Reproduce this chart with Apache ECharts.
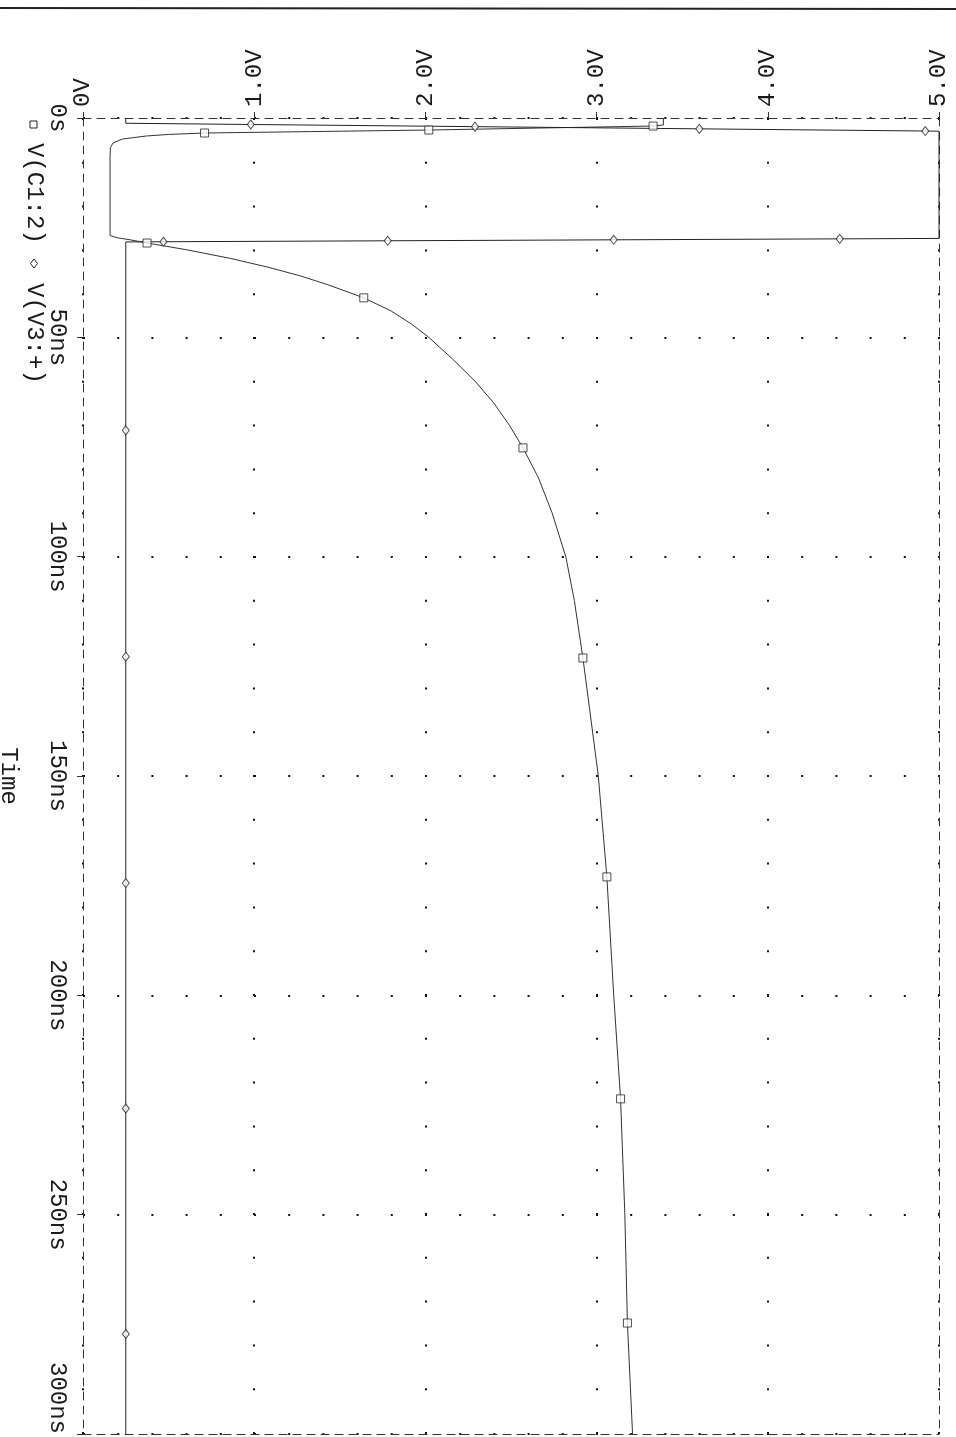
<!DOCTYPE html>
<html><head><meta charset="utf-8">
<script src="https://cdn.jsdelivr.net/npm/echarts@6/dist/echarts.min.js"></script>
<style>html,body{margin:0;padding:0;background:#fff}#c{width:956px;height:1437px}</style>
</head><body><div id="c"></div>
<script>
// Voltage (x) and time (y, ns) tick values
const voltTicks = [0, 1, 2, 3, 4, 5];
const timeTicks = [0, 50, 100, 150, 200, 250, 300];

// V(C1:2) trace (time in ns, voltage in V)
const c1Time = [0, 1.6, 1.83, 2.3, 2.74, 3.1, 3.42, 3.75, 4.1, 4.8, 5.7, 6.8, 8.9, 26.8, 27.3, 27.8, 28.5, 30.0, 32.0, 34.0, 36.0, 38.0, 41.0, 44.0, 47.0, 50.0, 55.0, 60.0, 65.0, 70.0, 75.2, 82.0, 90.0, 100.0, 110.0, 123.1, 135.0, 150.0, 173.0, 200.0, 223.6, 250.0, 274.7, 300.0];
const c1Volt = [3.39, 3.39, 3.33, 2.65, 2.02, 1.33, 0.71, 0.50, 0.37, 0.23, 0.175, 0.16, 0.158, 0.158, 0.20, 0.28, 0.374, 0.60, 0.86, 1.08, 1.27, 1.43, 1.64, 1.80, 1.92, 2.02, 2.16, 2.29, 2.40, 2.49, 2.57, 2.66, 2.74, 2.82, 2.87, 2.92, 2.96, 3.01, 3.06, 3.10, 3.14, 3.165, 3.18, 3.21];
// V(C1:2) square markers
const c1MarkTime = [1.83, 2.74, 3.42, 28.5, 41.0, 75.2, 123.1, 173.0, 223.6, 274.7];
const c1MarkVolt = [3.33, 2.02, 0.71, 0.374, 1.64, 2.57, 2.92, 3.06, 3.14, 3.18];

// V(V3:+) trace
const v3Time = [0, 1.2, 1.48, 1.97, 2.47, 2.97, 3.0, 27.45, 27.55, 27.77, 27.99, 28.21, 28.25, 300];
const v3Volt = [0.25, 0.25, 0.98, 2.29, 3.60, 4.92, 5.0, 5.0, 4.42, 3.10, 1.78, 0.47, 0.25, 0.25];
// V(V3:+) diamond markers
const v3MarkTime = [1.48, 1.97, 2.47, 2.97, 27.55, 27.77, 27.99, 28.21, 71.2, 122.8, 174.4, 225.8, 277.2];
const v3MarkVolt = [0.98, 2.29, 3.60, 4.92, 4.42, 3.10, 1.78, 0.47, 0.25, 0.25, 0.25, 0.25, 0.25];

const pairs = (ts, vs) => ts.map((t, i) => [vs[i], t]);
const FONT = 'Liberation Mono';
const INK = '#1a1a1a';
const FS = 24;
const dashed = {color: '#333', width: 1, type: [8, 6]};

const chart = echarts.init(document.getElementById('c'), null, {renderer: 'canvas'});
chart.setOption({
  animation: false,
  backgroundColor: '#fff',
  grid: {left: 83, right: 17, top: 118, bottom: 3, containLabel: false, outerBoundsMode: 'none'},
  xAxis: [{
    type: 'value', position: 'top', min: voltTicks[0], max: voltTicks[voltTicks.length - 1], interval: 1,
    axisLine: {show: true, onZero: false, lineStyle: dashed},
    axisTick: {show: true, length: 6, lineStyle: {color: '#333'}},
    axisLabel: {rotate: -90, margin: 11, fontFamily: FONT, fontSize: FS, color: INK,
      formatter: v => v === 0 ? '0V' : v.toFixed(1) + 'V'},
    splitLine: {show: true, lineStyle: {color: '#111', width: 2, type: [2, 41.8]}}
  }, {
    type: 'value', position: 'bottom', min: 0, max: 5, interval: 1,
    axisLine: {show: true, onZero: false, lineStyle: dashed},
    axisTick: {show: false}, axisLabel: {show: false}, splitLine: {show: false}
  }],
  yAxis: [{
    type: 'value', position: 'left', inverse: true, min: timeTicks[0], max: timeTicks[timeTicks.length - 1], interval: 50,
    axisLine: {show: true, onZero: false, lineStyle: dashed},
    axisTick: {show: true, length: 6, lineStyle: {color: '#333'}},
    axisLabel: {rotate: -90, margin: 14, fontFamily: FONT, fontSize: FS, color: INK, alignMaxLabel: 'right',
      formatter: v => v === 0 ? '0s' : v + 'ns'},
    splitLine: {show: true, lineStyle: {color: '#111', width: 2, type: [2, 32.2]}},
    name: 'Time', nameLocation: 'middle', nameRotate: -90, nameGap: 63,
    nameTextStyle: {fontFamily: FONT, fontSize: FS, color: INK}
  }, {
    type: 'value', position: 'right', inverse: true, min: 0, max: 300, interval: 50,
    axisLine: {show: true, onZero: false, lineStyle: dashed},
    axisTick: {show: false}, axisLabel: {show: false}, splitLine: {show: false}
  }],
  series: [
    {type: 'line', name: 'V(C1:2)', data: pairs(c1Time, c1Volt), symbol: 'none', clip: false, z: 3,
      lineStyle: {color: '#333', width: 1}},
    {type: 'line', name: 'V(V3:+)', data: pairs(v3Time, v3Volt), symbol: 'none', clip: false, z: 3,
      lineStyle: {color: '#222', width: 1}},
    {type: 'scatter', name: 'V(C1:2)', data: pairs(c1MarkTime, c1MarkVolt), symbol: 'rect', symbolSize: [8, 8], z: 4,
      itemStyle: {color: '#fff', borderColor: '#222', borderWidth: 1}},
    {type: 'scatter', name: 'V(V3:+)', data: pairs(v3MarkTime, v3MarkVolt), symbol: 'diamond', symbolSize: [7, 9], z: 4,
      itemStyle: {color: '#fff', borderColor: '#222', borderWidth: 1}}
  ],
  graphic: [
    {type: 'line', shape: {x1: 0, y1: 8, x2: 956, y2: 9}, style: {stroke: '#222', lineWidth: 2}},
    {type: 'rect', shape: {x: 30, y: 121, width: 7, height: 7}, style: {fill: 'none', stroke: '#222', lineWidth: 1}},
    {type: 'text', x: 34, y: 143, rotation: -Math.PI / 2,
      style: {text: 'V(C1:2)', font: FS + 'px "Liberation Mono"', fill: INK, textAlign: 'left', textVerticalAlign: 'middle'}},
    {type: 'polygon', shape: {points: [[34, 259], [37.5, 263.5], [34, 268], [30.5, 263.5]]},
      style: {fill: 'none', stroke: '#222', lineWidth: 1}},
    {type: 'text', x: 34, y: 283, rotation: -Math.PI / 2,
      style: {text: 'V(V3:+)', font: FS + 'px "Liberation Mono"', fill: INK, textAlign: 'left', textVerticalAlign: 'middle'}}
  ]
});
</script></body></html>
